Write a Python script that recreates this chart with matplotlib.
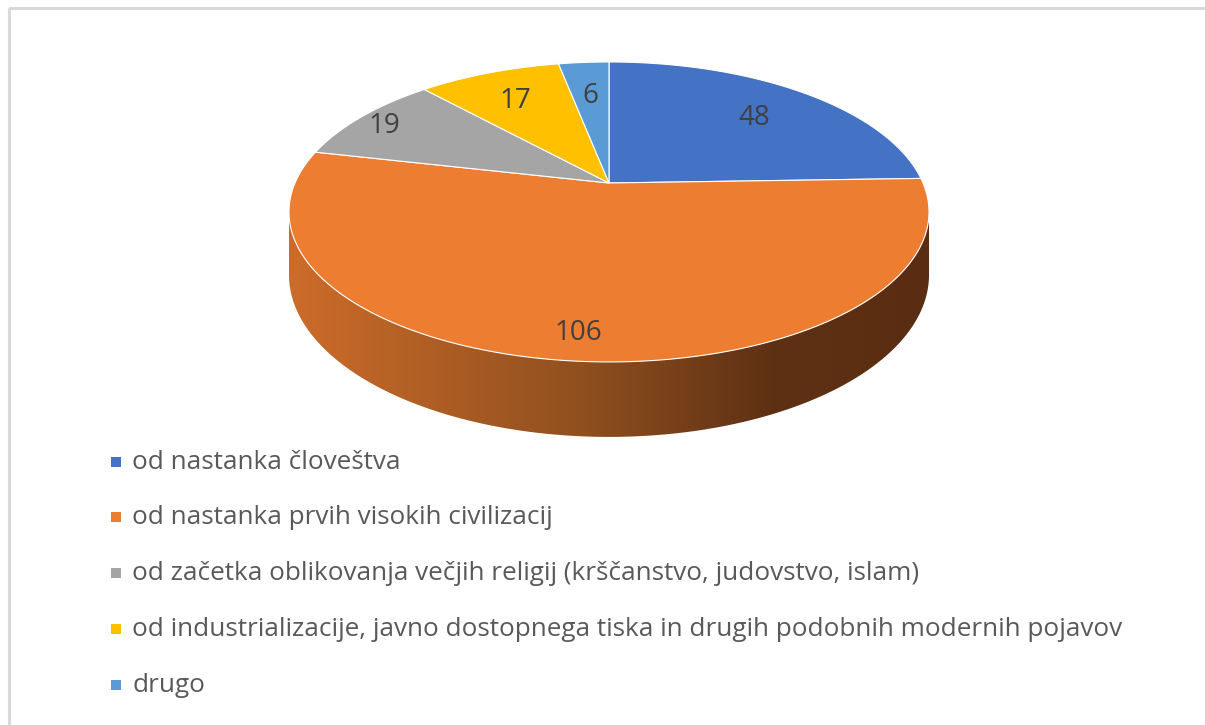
''' 3D tortni graf: od kdaj obstaja ... '''
import numpy as np
import matplotlib
matplotlib.use('Agg')
import matplotlib.pyplot as plt
from matplotlib.patches import Polygon, Rectangle
from matplotlib.colors import LinearSegmentedColormap

kategorije = [
    'od nastanka človeštva',
    'od nastanka prvih visokih civilizacij',
    'od začetka oblikovanja večjih religij (krščanstvo, judovstvo, islam)',
    'od industrializacije, javno dostopnega tiska in drugih podobnih modernih pojavov',
    'drugo',
]
vrednosti = [48, 106, 19, 17, 6]
barve = ['#4472c4', '#ed7d31', '#a5a5a5', '#ffc000', '#5b9bd5']

# geometrija "3D" pite (v pikslih)
CX, CY = 609, 183        # središče pite
A, B = 314, 144.4        # polosi
K = 0.193                # perspektiva
D = 60.5                 # debelina
R_NAPIS = [0.73, 0.85, 0.9, 0.75, 0.72]

plt.rcParams['font.family'] = ['Open Sans', 'DejaVu Sans']


def projekcija(u, v, z=0.0):
    w = 1 + K * v
    return CX + A * u / w, CY - B * v / w + D * z / w


def main():
    fig = plt.figure(figsize=(12.05, 7.25), dpi=100)
    ax = fig.add_axes([0, 0, 1, 1])
    ax.set_xlim(0, 1205)
    ax.set_ylim(725, 0)
    ax.axis('off')

    # okvir
    ax.add_patch(Rectangle((9, 8), 1250, 800, fill=False, edgecolor='#d9d9d9', lw=2.2))

    # stranski plašč
    tl = np.pi + np.arcsin(K)
    tr = 2 * np.pi - np.arcsin(K)
    t = np.linspace(tl, tr, 300)
    xs, ys = projekcija(np.cos(t), np.sin(t))
    xb, yb = projekcija(np.cos(t[::-1]), np.sin(t[::-1]), 1.0)
    plasc = Polygon(np.column_stack([np.r_[xs, xb], np.r_[ys, yb]]), closed=True,
                    facecolor='none', edgecolor='none')
    ax.add_patch(plasc)
    cmap = LinearSegmentedColormap.from_list('plasc', [
        (0.0, '#cc6c2a'), (0.45, '#91501f'), (0.75, '#5f3114'), (1.0, '#5a2d12')])
    grad = np.linspace(0, 1, 256).reshape(1, -1)
    img = ax.imshow(grad, cmap=cmap, aspect='auto',
                    extent=(xs.min(), xs.max(), yb.max() + 2, ys.min() - 2), zorder=1)
    img.set_clip_path(plasc)
    ax.set_xlim(0, 1205)
    ax.set_ylim(725, 0)

    # zgornja ploskev
    skupaj = sum(vrednosti)
    kot = 90.0
    for i, (vr, bar) in enumerate(zip(vrednosti, barve)):
        razpon = vr / skupaj * 360
        a = np.radians(np.linspace(kot, kot - razpon, 200))
        px, py = projekcija(np.cos(a), np.sin(a))
        ax.add_patch(Polygon(np.column_stack([np.r_[CX, px], np.r_[CY, py]]), closed=True,
                             facecolor=bar, edgecolor='white', lw=0.8, zorder=2))
        sred = np.radians(kot - razpon / 2)
        lx, ly = projekcija(R_NAPIS[i] * np.cos(sred), R_NAPIS[i] * np.sin(sred))
        ax.text(lx, ly, str(vr), ha='center', va='center_baseline',
                fontsize=20, color='#404040', zorder=3)
        kot -= razpon

    # legenda
    for i, (kat, bar) in enumerate(zip(kategorije, barve)):
        y = 468.5 + i * 55.8
        ax.add_patch(Rectangle((111, y - 12), 10, 10, facecolor=bar, edgecolor='none'))
        ax.text(132, y, kat, ha='left', va='baseline', fontsize=18.8, color='#595959')

    fig.savefig('out.png', dpi=100)


if __name__ == '__main__':
    main()
